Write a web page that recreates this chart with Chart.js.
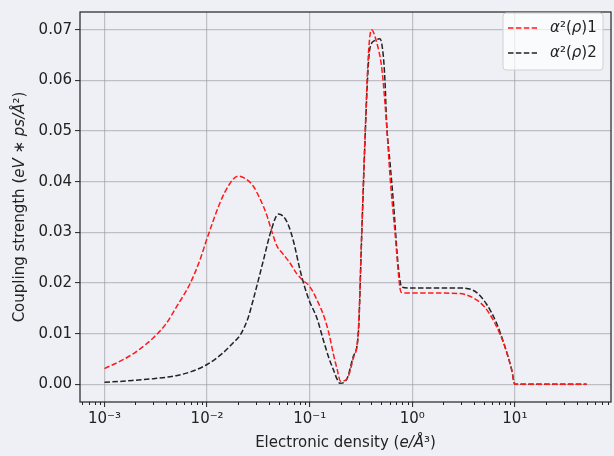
<!DOCTYPE html>
<html>
<head>
<meta charset="utf-8">
<script src="https://cdn.jsdelivr.net/npm/chart.js@4.4.0/dist/chart.umd.min.js"></script>
<style>
  html, body { margin: 0; padding: 0; background: #eff0f5; }
</style>
</head>
<body>
<canvas id="couplingChart" width="614" height="456"></canvas>
<script>
// electronic density (e/Å^3) and coupling strength
const RED_X = [0.001, 0.0015, 0.002, 0.0025, 0.003, 0.004, 0.005, 0.0068, 0.0085, 0.01, 0.0134, 0.0165,
  0.02, 0.024, 0.028, 0.033, 0.038, 0.043, 0.048, 0.055, 0.064, 0.075, 0.085, 0.1, 0.12, 0.14, 0.155,
  0.17, 0.185, 0.2, 0.23, 0.265, 0.298, 0.321, 0.346, 0.373, 0.4, 0.45, 0.5, 0.52, 0.563, 0.607, 0.678,
  0.759, 0.79, 1, 2, 2.9, 3.9, 5.1, 6.4, 8, 9.3, 10, 20, 50];
const RED_Y = [0.0031, 0.0048, 0.0063, 0.0078, 0.0092, 0.012, 0.0152, 0.0198, 0.0245, 0.0288, 0.0359, 0.0395,
  0.0411, 0.0405, 0.0392, 0.0365, 0.0335, 0.03, 0.0273, 0.0257, 0.024, 0.0218, 0.0206, 0.0193, 0.0163, 0.013, 0.0098,
  0.006, 0.003, 0.0006, 0.001, 0.005, 0.0107, 0.0295, 0.0488, 0.065, 0.07, 0.0675, 0.063, 0.0598, 0.051, 0.041, 0.03,
  0.019, 0.0181, 0.018, 0.018, 0.0179, 0.0171, 0.0152, 0.012, 0.0074, 0.0029, 0, 0, 0];

const BLACK_X = [0.001, 0.0015, 0.002, 0.003, 0.005, 0.007, 0.01, 0.0143, 0.018, 0.021, 0.025, 0.028, 0.032,
  0.0351, 0.0426, 0.0494, 0.055, 0.0618, 0.07, 0.08, 0.09, 0.1, 0.117, 0.136, 0.155, 0.17, 0.185, 0.197, 0.23,
  0.266, 0.298, 0.321, 0.346, 0.37, 0.386, 0.434, 0.484, 0.521, 0.542, 0.563, 0.607, 0.655, 0.733, 0.79, 1, 2,
  3.1, 4.25, 5.3, 6.65, 8, 9.3, 10, 20, 50];
const BLACK_Y = [0.0004, 0.0006, 0.0008, 0.0011, 0.0017, 0.0025, 0.0039, 0.0062, 0.0082, 0.0097, 0.013, 0.0165, 0.021,
  0.0242, 0.0307, 0.0336, 0.0332, 0.0315, 0.028, 0.0228, 0.019, 0.0163, 0.0132, 0.0087, 0.005, 0.0029, 0.001, 0.0002, 0.001,
  0.0055, 0.01, 0.029, 0.048, 0.062, 0.0663, 0.0679, 0.0682, 0.065, 0.0598, 0.0514, 0.0437, 0.0359, 0.0229, 0.0192, 0.019, 0.019,
  0.019, 0.0181, 0.0158, 0.012, 0.0074, 0.0029, 0, 0, 0];

const SERIES_LABELS = ['α²(ρ)1', 'α²(ρ)2'];
const X_DECADES = [0.001, 0.01, 0.1, 1, 10];
const X_TICK_LABELS = ['10⁻³', '10⁻²', '10⁻¹', '10⁰', '10¹'];

const X_MIN = 5.77e-4;
const X_MAX = 86.5;
const Y_MIN = -0.0035;
const Y_MAX = 0.0735;

const RED = '#ff1a1a';
const BLACK = '#222222';
const BG = '#eff0f5';
const GRID = 'rgba(150,150,155,0.55)';
const FONT = '"DejaVu Sans", sans-serif';
const DASH = [5.5, 2.4];

const toPoints = (xs, ys) => xs.map((x, i) => ({ x, y: ys[i] }));

// draw a string made of plain and italic pieces
const drawRich = (ctx, parts, x, y, align) => {
  const fontFor = p => `${p.i ? 'italic ' : ''}15px ${FONT}`;
  let total = 0;
  parts.forEach(p => {
    ctx.font = fontFor(p);
    total += ctx.measureText(p.t).width;
  });
  let cx = align === 'left' ? x : x - total / 2;
  ctx.textAlign = 'left';
  ctx.textBaseline = 'middle';
  parts.forEach(p => {
    ctx.font = fontFor(p);
    ctx.fillText(p.t, cx, y);
    cx += ctx.measureText(p.t).width;
  });
};

const legendParts = n => [{ t: 'α', i: true }, { t: '²(' }, { t: 'ρ', i: true }, { t: ')' + n }];

const decorPlugin = {
  id: 'decor',
  beforeDraw(chart) {
    const { ctx } = chart;
    ctx.save();
    ctx.fillStyle = BG;
    ctx.fillRect(0, 0, chart.width, chart.height);
    ctx.restore();
  },
  afterDraw(chart) {
    const { ctx, chartArea: a } = chart;
    const xScale = chart.scales.x;
    ctx.save();

    // spines
    ctx.strokeStyle = '#222';
    ctx.lineWidth = 1.2;
    ctx.strokeRect(a.left, a.top, a.right - a.left, a.bottom - a.top);

    // minor ticks on the log axis
    ctx.lineWidth = 1;
    xScale.ticks.forEach(t => {
      if (t.major) return;
      const px = Math.round(xScale.getPixelForValue(t.value)) + 0.5;
      ctx.beginPath();
      ctx.moveTo(px, a.bottom);
      ctx.lineTo(px, a.bottom + 3);
      ctx.stroke();
    });

    // legend
    const lx = 503, ly = 13, lw = 100, lh = 57;
    ctx.beginPath();
    ctx.roundRect(lx, ly, lw, lh, 3);
    ctx.fillStyle = 'rgba(255,255,255,0.7)';
    ctx.fill();
    ctx.strokeStyle = '#d0d0d4';
    ctx.lineWidth = 1;
    ctx.stroke();
    const colors = [RED, BLACK];
    SERIES_LABELS.forEach((label, i) => {
      const y = 28 + i * 25;
      ctx.setLineDash(DASH);
      ctx.strokeStyle = colors[i];
      ctx.lineWidth = 1.5;
      ctx.beginPath();
      ctx.moveTo(508, y);
      ctx.lineTo(537, y);
      ctx.stroke();
      ctx.setLineDash([]);
      ctx.fillStyle = '#222';
      drawRich(ctx, legendParts(label.slice(-1)), 550, y, 'left');
    });

    // axis titles
    ctx.fillStyle = '#222';
    drawRich(ctx, [{ t: 'Electronic density (' }, { t: 'e/Å', i: true }, { t: '³)' }],
      (a.left + a.right) / 2, 443);
    ctx.translate(20, (a.top + a.bottom) / 2);
    ctx.rotate(-Math.PI / 2);
    drawRich(ctx, [{ t: 'Coupling strength (' }, { t: 'eV', i: true }, { t: ' ∗ ' }, { t: 'ps/Å', i: true }, { t: '²)' }], 0, 0);
    ctx.restore();
  },
};

document.addEventListener('DOMContentLoaded', () => {
  const ctx = document.getElementById('couplingChart').getContext('2d');

  const lineStyle = color => ({
    borderColor: color,
    backgroundColor: color,
    borderWidth: 1.5,
    borderDash: DASH,
    pointRadius: 0,
    fill: false,
    cubicInterpolationMode: 'monotone',
  });

  new Chart(ctx, {
    type: 'line',
    data: {
      datasets: [
        { label: SERIES_LABELS[0], data: toPoints(RED_X, RED_Y), ...lineStyle(RED) },
        { label: SERIES_LABELS[1], data: toPoints(BLACK_X, BLACK_Y), ...lineStyle(BLACK) },
      ],
    },
    options: {
      responsive: false,
      animation: false,
      devicePixelRatio: 1,
      layout: { padding: { left: 0, right: 3, top: 6, bottom: 0 } },
      plugins: {
        legend: { display: false },
        tooltip: { enabled: false },
      },
      scales: {
        x: {
          type: 'logarithmic',
          min: X_MIN,
          max: X_MAX,
          afterFit: scale => { scale.height = 54; },
          afterBuildTicks: scale => {
            const ticks = [];
            for (let e = -4; e <= 1; e++) {
              for (let m = 1; m <= 9; m++) {
                const v = m * Math.pow(10, e);
                if (v >= X_MIN && v <= X_MAX) ticks.push({ value: v, major: m === 1 });
              }
            }
            scale.ticks = ticks;
          },
          border: { display: false },
          grid: {
            color: c => (c.tick && c.tick.major ? GRID : 'rgba(0,0,0,0)'),
            lineWidth: 1.2,
            tickColor: c => (c.tick && c.tick.major ? '#222' : 'rgba(0,0,0,0)'),
            tickLength: 5,
            tickWidth: 1,
          },
          ticks: {
            autoSkip: false,
            maxRotation: 0,
            padding: 3,
            color: '#222',
            font: { family: FONT, size: 15 },
            callback: (v, i, ticks) => {
              if (!ticks[i].major) return '';
              const k = X_DECADES.findIndex(d => Math.abs(Math.log10(d) - Math.log10(v)) < 1e-6);
              return k >= 0 ? X_TICK_LABELS[k] : '';
            },
          },
        },
        y: {
          min: Y_MIN,
          max: Y_MAX,
          afterFit: scale => { scale.width = 80; },
          border: { display: false },
          grid: {
            color: GRID,
            lineWidth: 1.2,
            tickColor: '#222',
            tickLength: 5,
            tickWidth: 1,
          },
          ticks: {
            stepSize: 0.01,
            includeBounds: false,
            padding: 3,
            color: '#222',
            font: { family: FONT, size: 15 },
            callback: v => v.toFixed(2),
          },
        },
      },
    },
    plugins: [decorPlugin],
  });
});
</script>
</body>
</html>
